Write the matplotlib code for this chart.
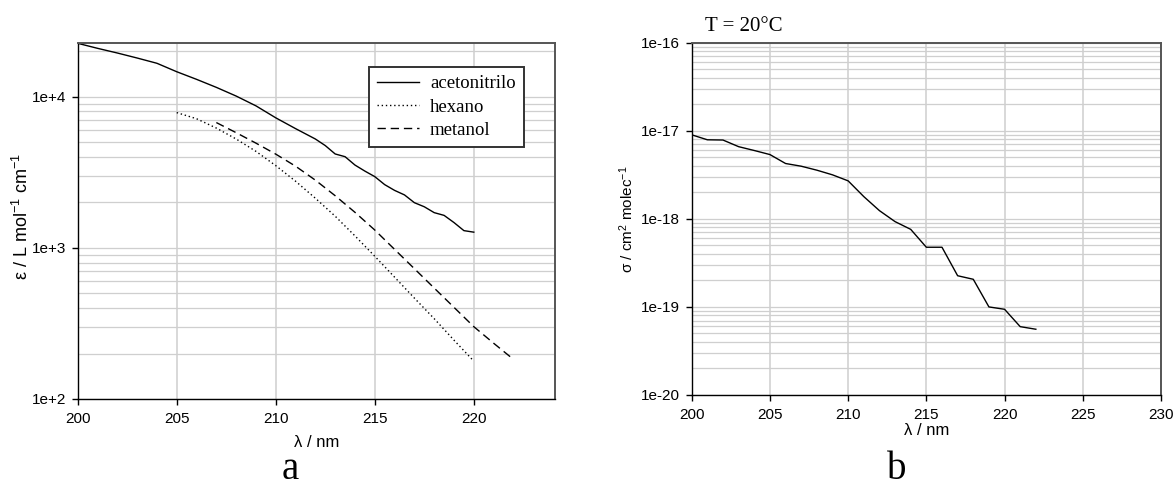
import numpy as np
import matplotlib
matplotlib.use("Agg")
import matplotlib.pyplot as plt
from matplotlib.ticker import FixedLocator, FuncFormatter, LogLocator, NullFormatter

# ---------------- data ----------------
# panel a : molar absorptivity (L mol-1 cm-1)
aceto_wl = [200, 201, 202, 203, 204, 205, 206, 207, 208, 209, 210, 211, 212, 212.5,
            213, 213.5, 214, 214.5, 215, 215.5, 216, 216.5, 217, 217.5, 218, 218.5,
            219, 219.5, 220]
aceto_eps = [22560, 20900, 19460, 18030, 16640, 14630, 13030, 11530, 10100, 8700, 7250,
             6150, 5250, 4750, 4180, 4010, 3530, 3220, 2960, 2620, 2400, 2240, 1990,
             1870, 1710, 1640, 1470, 1300, 1270]

hex_wl = [205, 206, 207, 208, 209, 210, 211, 212, 213, 214, 215, 216, 217, 218, 219, 220]
hex_eps = [7850, 7150, 6200, 5250, 4350, 3500, 2760, 2130, 1620, 1200, 880, 640, 465,
           340, 245, 178]

met_wl = [207, 208, 209, 210, 211, 212, 213, 214, 215, 216, 217, 218, 219, 220, 221, 222]
met_eps = [6745, 5780, 4930, 4170, 3470, 2805, 2213, 1718, 1312, 977, 728, 542, 404,
           301, 234, 183]

series_labels = ["acetonitrilo", "hexano", "metanol"]

# panel b : absorption cross section (cm2 molec-1)
b_wl = [200, 201, 202, 203, 204, 205, 206, 207, 208, 209, 210, 211, 212, 213, 214,
        215, 216, 217, 218, 219, 220, 221, 222]
b_sigma = [9.0e-18, 7.9e-18, 7.85e-18, 6.6e-18, 5.97e-18, 5.37e-18, 4.25e-18, 3.96e-18,
           3.57e-18, 3.16e-18, 2.7e-18, 1.79e-18, 1.24e-18, 9.3e-19, 7.6e-19, 4.76e-19,
           4.76e-19, 2.26e-19, 2.06e-19, 1.0e-19, 9.4e-20, 5.97e-20, 5.58e-20]

a_xticks = [200, 205, 210, 215, 220]
b_xticks = [200, 205, 210, 215, 220, 225, 230]
a_yticks = [1e2, 1e3, 1e4]
b_yticks = [1e-20, 1e-19, 1e-18, 1e-17, 1e-16]

# ---------------- style ----------------
SANS = ["Liberation Sans", "DejaVu Sans"]
SERIF = ["Liberation Serif", "DejaVu Serif"]
plt.rcParams["font.family"] = SANS
plt.rcParams["mathtext.fontset"] = "custom"
plt.rcParams["mathtext.rm"] = "Liberation Sans"
plt.rcParams["mathtext.it"] = "Liberation Sans"

W, H = 1173, 487
fig = plt.figure(figsize=(W / 100, H / 100), dpi=100)


def px_axes(l, t, r, b):
    return fig.add_axes([l / W, 1 - b / H, (r - l) / W, (b - t) / H])


def logfmt(v, pos):
    return "1e{:+d}".format(int(round(np.log10(v))))


def style_axes(ax, xticks, yticks):
    ax.set_yscale("log")
    ax.xaxis.set_major_locator(FixedLocator(xticks))
    ax.yaxis.set_major_locator(FixedLocator(yticks))
    ax.yaxis.set_major_formatter(FuncFormatter(logfmt))
    ax.yaxis.set_minor_locator(LogLocator(base=10, subs=np.arange(2, 10), numticks=50))
    ax.yaxis.set_minor_formatter(NullFormatter())
    ax.tick_params(axis="y", which="minor", length=0)
    ax.tick_params(axis="both", which="major", direction="out", length=4, width=1,
                   labelsize=11, colors="black")
    ax.tick_params(axis="x", which="major", pad=5.5)
    ax.tick_params(axis="y", which="major", pad=4.5)
    ax.grid(True, axis="x", which="major", color="#d6d6d6", lw=1.3)
    ax.grid(True, axis="y", which="both", color="#cfcfcf", lw=0.9)
    ax.set_axisbelow(True)
    for s in ("left", "bottom"):
        ax.spines[s].set_color("black")
        ax.spines[s].set_linewidth(1.0)
    for s in ("top", "right"):
        ax.spines[s].set_color("#555555")
        ax.spines[s].set_linewidth(1.4)


# ---------------- panel a ----------------
axa = px_axes(77.7, 43.3, 555, 399)
la, = axa.plot(aceto_wl, aceto_eps, color="black", lw=1.0, ls="-")
lh, = axa.plot(hex_wl, hex_eps, color="black", lw=1.0, ls=(0, (1, 2)))
lm, = axa.plot(met_wl, met_eps, color="black", lw=1.0, ls=(0, (6, 3.5)))
axa.set_xlim(200, 224.1)
axa.set_ylim(100, 22560)
style_axes(axa, a_xticks, a_yticks)
axa.set_xlabel("λ / nm", fontsize=12, labelpad=6)
axa.set_ylabel("ε / L mol$^{-1}$ cm$^{-1}$", fontsize=13)
axa.yaxis.set_label_coords((32 - 77.7) / 477.3, (399 - 216.5) / 355.7)
leg = axa.legend([la, lh, lm], series_labels, loc="upper left",
                 bbox_to_anchor=(0.6103, 0.9342), borderaxespad=0,
                 prop={"family": SERIF, "size": 13.5}, frameon=True, fancybox=False,
                 framealpha=1, edgecolor="#333333", borderpad=0.45,
                 handlelength=2.2, handletextpad=0.6, labelspacing=0.33)
leg.get_frame().set_linewidth(1.4)

# ---------------- panel b ----------------
axb = px_axes(691.7, 42.7, 1161, 395)
axb.plot(b_wl, b_sigma, color="black", lw=1.0)
axb.set_xlim(200, 230)
axb.set_ylim(1e-20, 1e-16)
style_axes(axb, b_xticks, b_yticks)
axb.set_xlabel("λ / nm", fontsize=12, labelpad=0.5)
axb.set_ylabel("σ / cm$^2$ molec$^{-1}$", fontsize=11)
axb.yaxis.set_label_coords((636 - 691.7) / 469.3, (395 - 219) / 352.3)

# ---------------- annotations ----------------
fig.text(705 / W, 1 - 31 / H, "T = 20°C", family=SERIF, fontsize=15,
         ha="left", va="baseline")
fig.text(290 / W, 1 - 479 / H, "a", family=SERIF, fontsize=28,
         ha="center", va="baseline")
fig.text(897 / W, 1 - 479 / H, "b", family=SERIF, fontsize=28,
         ha="center", va="baseline")

fig.savefig("out.png", dpi=100)
